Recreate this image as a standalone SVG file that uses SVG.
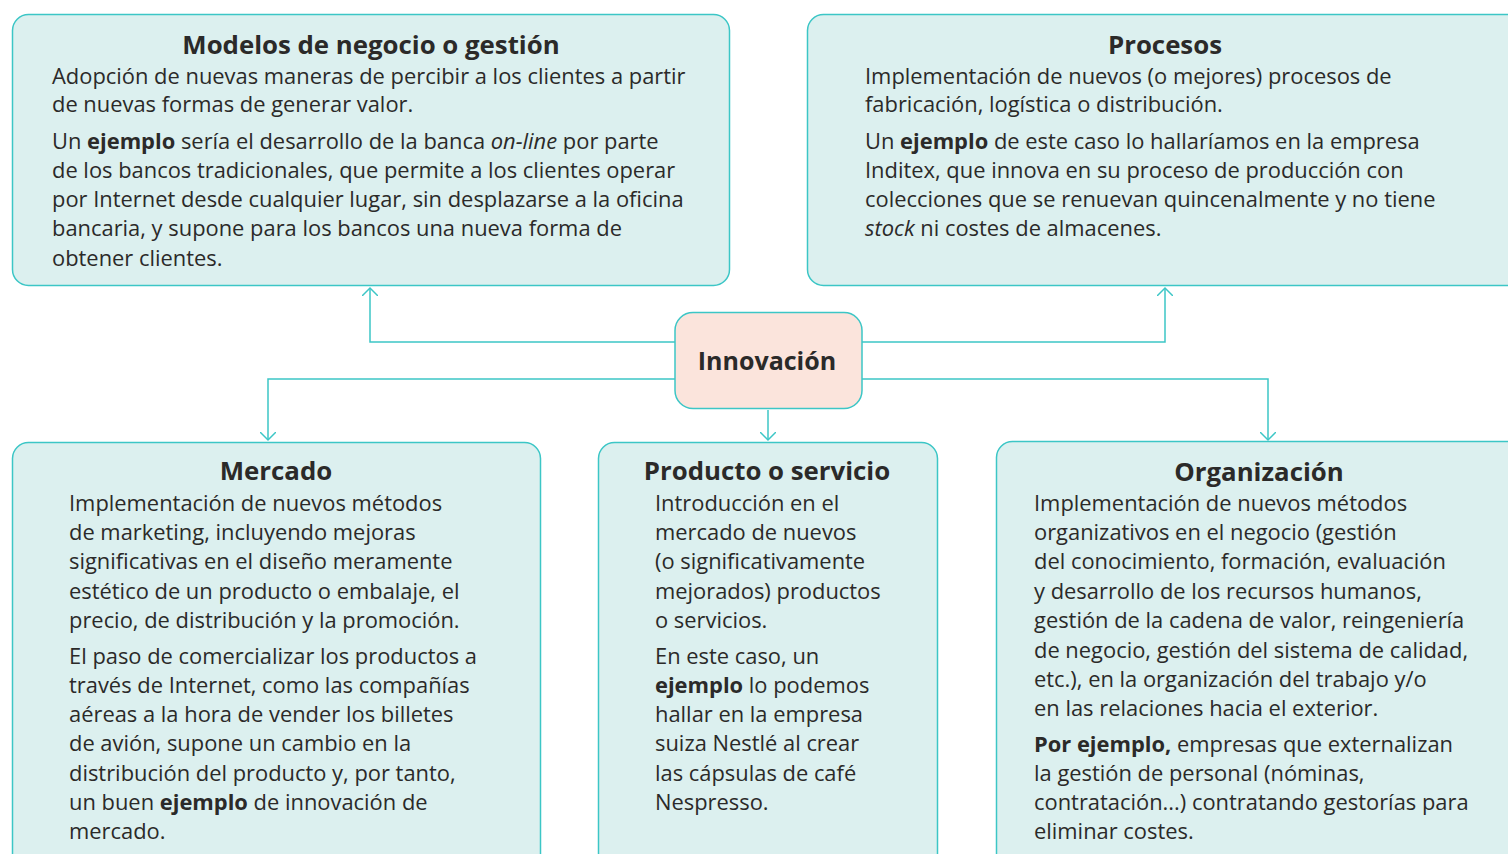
<svg xmlns="http://www.w3.org/2000/svg" width="1508" height="854" viewBox="0 0 1508 854">
<defs>
<style>
.box{fill:#dcf0ef;stroke:#3cc6c6;stroke-width:1.5}
.hub{fill:#fbe4dc;stroke:#3cc6c6;stroke-width:1.5}
.t{font-family:"Open Sans","Liberation Sans",sans-serif;font-size:21.9px;fill:#2b2a29}
.h{font-family:"Open Sans","Liberation Sans",sans-serif;font-size:25.8px;font-weight:bold;fill:#2b2a29;text-anchor:middle}
.b{font-weight:bold}
.i{font-style:italic}
.c{fill:none;stroke:#3cc6c6;stroke-width:1.5}
</style>
<marker id="ar" viewBox="0 0 16 16" refX="8" refY="8" markerWidth="16" markerHeight="16" markerUnits="userSpaceOnUse" orient="auto">
<path d="M0,0 L8,8 L0,16" fill="none" stroke="#3cc6c6" stroke-width="1.5"/>
</marker>
</defs>
<g id="connectors">
<path class="c" d="M675,342 H370 V288" marker-end="url(#ar)"/>
<path class="c" d="M862,342 H1165 V288" marker-end="url(#ar)"/>
<path class="c" d="M675,379 H268 V440" marker-end="url(#ar)"/>
<path class="c" d="M862,379 H1268 V440" marker-end="url(#ar)"/>
<path class="c" d="M768,410 V440" marker-end="url(#ar)"/>
</g>
<g id="modelos">
<rect class="box" x="12.5" y="14.5" width="717" height="271" rx="16"/>
<text class="h" x="371" y="54">Modelos de negocio o gestión</text>
<text class="t" x="52" y="84">Adopción de nuevas maneras de percibir a los clientes a partir</text>
<text class="t" x="52" y="112">de nuevas formas de generar valor.</text>
<text class="t" x="52" y="149">Un <tspan class="b">ejemplo</tspan> sería el desarrollo de la banca <tspan class="i">on-line</tspan> por parte</text>
<text class="t" x="52" y="178">de los bancos tradicionales, que permite a los clientes operar</text>
<text class="t" x="52" y="207">por Internet desde cualquier lugar, sin desplazarse a la oficina</text>
<text class="t" x="52" y="236">bancaria, y supone para los bancos una nueva forma de</text>
<text class="t" x="52" y="266">obtener clientes.</text>
</g>
<g id="procesos">
<rect class="box" x="807.5" y="14.5" width="720" height="271" rx="16"/>
<text class="h" x="1165" y="54">Procesos</text>
<text class="t" x="865" y="84">Implementación de nuevos (o mejores) procesos de</text>
<text class="t" x="865" y="112">fabricación, logística o distribución.</text>
<text class="t" x="865" y="149">Un <tspan class="b">ejemplo</tspan> de este caso lo hallaríamos en la empresa</text>
<text class="t" x="865" y="178">Inditex, que innova en su proceso de producción con</text>
<text class="t" x="865" y="207">colecciones que se renuevan quincenalmente y no tiene</text>
<text class="t" x="865" y="236"><tspan class="i">stock</tspan> ni costes de almacenes.</text>
</g>
<g id="innovacion">
<rect class="hub" x="675" y="312.5" width="187" height="96" rx="18"/>
<text class="h" x="767" y="370" style="font-size:25px">Innovación</text>
</g>
<g id="mercado">
<rect class="box" x="12.5" y="442.5" width="528" height="440" rx="16"/>
<text class="h" x="276" y="480">Mercado</text>
<text class="t" x="69" y="511">Implementación de nuevos métodos</text>
<text class="t" x="69" y="540">de marketing, incluyendo mejoras</text>
<text class="t" x="69" y="569">significativas en el diseño meramente</text>
<text class="t" x="69" y="599">estético de un producto o embalaje, el</text>
<text class="t" x="69" y="628">precio, de distribución y la promoción.</text>
<text class="t" x="69" y="664">El paso de comercializar los productos a</text>
<text class="t" x="69" y="693">través de Internet, como las compañías</text>
<text class="t" x="69" y="722">aéreas a la hora de vender los billetes</text>
<text class="t" x="69" y="751">de avión, supone un cambio en la</text>
<text class="t" x="69" y="781">distribución del producto y, por tanto,</text>
<text class="t" x="69" y="810">un buen <tspan class="b">ejemplo</tspan> de innovación de</text>
<text class="t" x="69" y="839">mercado.</text>
</g>
<g id="producto">
<rect class="box" x="598.5" y="442.5" width="339" height="440" rx="16"/>
<text class="h" x="767" y="480">Producto o servicio</text>
<text class="t" x="655" y="511">Introducción en el</text>
<text class="t" x="655" y="540">mercado de nuevos</text>
<text class="t" x="655" y="569">(o significativamente</text>
<text class="t" x="655" y="599">mejorados) productos</text>
<text class="t" x="655" y="628">o servicios.</text>
<text class="t" x="655" y="664">En este caso, un</text>
<text class="t" x="655" y="693"><tspan class="b">ejemplo</tspan> lo podemos</text>
<text class="t" x="655" y="722">hallar en la empresa</text>
<text class="t" x="655" y="751">suiza Nestlé al crear</text>
<text class="t" x="655" y="781">las cápsulas de café</text>
<text class="t" x="655" y="810">Nespresso.</text>
</g>
<g id="organizacion">
<rect class="box" x="996.5" y="441.5" width="540" height="440" rx="16"/>
<text class="h" x="1259" y="481">Organización</text>
<text class="t" x="1034" y="511">Implementación de nuevos métodos</text>
<text class="t" x="1034" y="540">organizativos en el negocio (gestión</text>
<text class="t" x="1034" y="569">del conocimiento, formación, evaluación</text>
<text class="t" x="1034" y="599">y desarrollo de los recursos humanos,</text>
<text class="t" x="1034" y="628">gestión de la cadena de valor, reingeniería</text>
<text class="t" x="1034" y="658">de negocio, gestión del sistema de calidad,</text>
<text class="t" x="1034" y="687">etc.), en la organización del trabajo y/o</text>
<text class="t" x="1034" y="716">en las relaciones hacia el exterior.</text>
<text class="t" x="1034" y="752"><tspan class="b">Por ejemplo,</tspan> empresas que externalizan</text>
<text class="t" x="1034" y="781">la gestión de personal (nóminas,</text>
<text class="t" x="1034" y="810">contratación...) contratando gestorías para</text>
<text class="t" x="1034" y="839">eliminar costes.</text>
</g>
</svg>
